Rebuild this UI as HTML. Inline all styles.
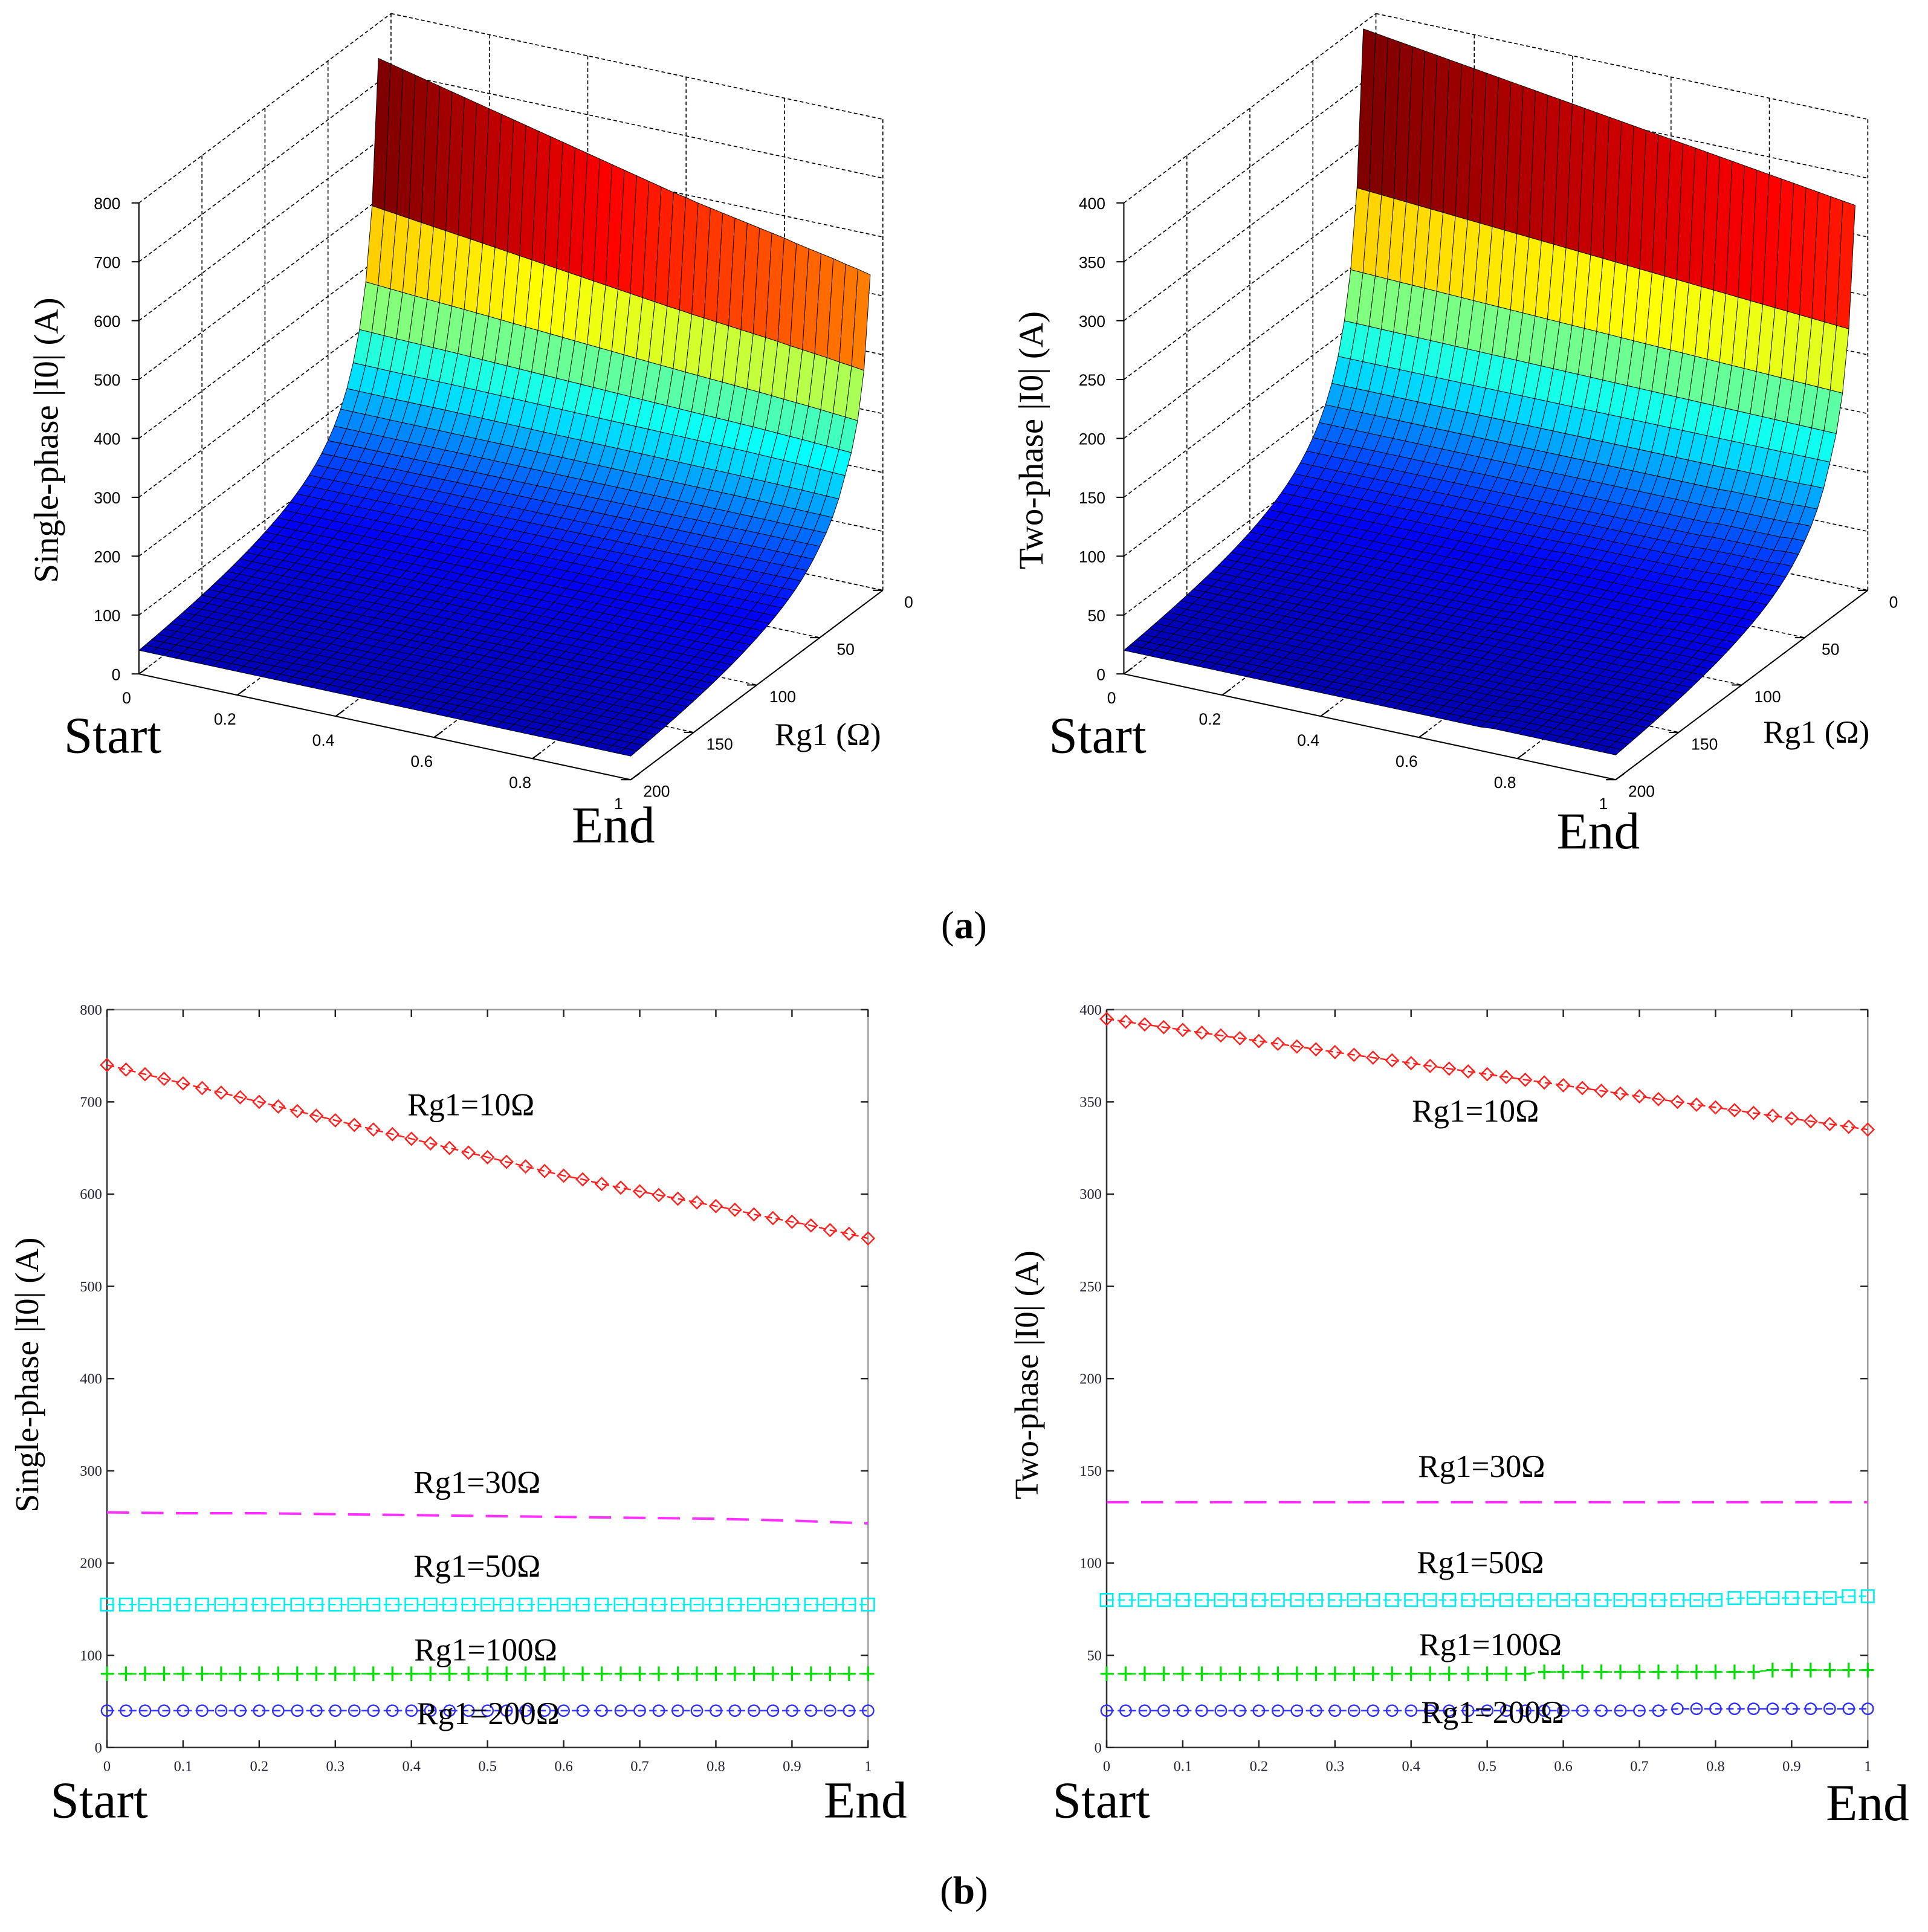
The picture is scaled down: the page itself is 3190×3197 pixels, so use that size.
<!DOCTYPE html>
<html><head><meta charset="utf-8">
<style>
html,body{margin:0;padding:0;background:#fff;}
svg{display:block;}
.serif{font-family:"Liberation Serif",serif;}
.sans{font-family:"Liberation Sans",sans-serif;}
</style></head>
<body>
<svg id="root" xmlns="http://www.w3.org/2000/svg" width="3190" height="3197" viewBox="0 0 1568 1571" preserveAspectRatio="none">
<rect x="0" y="0" width="1568" height="1571" fill="#fff"/>
<g id="g3dL"></g>
<g id="g3dR"></g>
<g id="g2dL"></g>
<g id="g2dR"></g>
<text class="serif" x="784" y="763" font-size="32" text-anchor="middle">(<tspan font-weight="bold">a</tspan>)</text>
<text class="serif" x="784" y="1548" font-size="32" text-anchor="middle">(<tspan font-weight="bold">b</tspan>)</text>
</svg>
<script>
// ---- data ----
const tTicks = [0,0.1,0.2,0.3,0.4,0.5,0.6,0.7,0.8,0.9,1];
const rgLevels = [10,30,50,100,200];
const single10 = [740,735,730,725,720,715,710,705,700,695,690,685,680,675,670,665,660,655,650,645,640,635,630,625,620,616,611,607,603,599,595,591,587,583,578,574,570,566,561,557,552];
const single30 = [255,254,254,253,252,251,250,249,248,246,243];
const single50 = [155,155,155,155,155,155,155,155,155,155,155,155,155,155,155,155,155,155,155,155,155,155,155,155,155,155,155,155,155,155,155,155,155,155,155,155,155,155,155,155,155];
const single100 = [80,80,80,80,80,80,80,80,80,80,80,80,80,80,80,80,80,80,80,80,80,80,80,80,80,80,80,80,80,80,80,80,80,80,80,80,80,80,80,80,80];
const single200 = [40,40,40,40,40,40,40,40,40,40,40,40,40,40,40,40,40,40,40,40,40,40,40,40,40,40,40,40,40,40,40,40,40,40,40,40,40,40,40,40,40];
const two10 = [395,393.5,392,390.5,389,387.5,386,384.5,383,381.5,380,378.5,377,375.5,374,372.5,371,369.5,368,366.5,365,363.5,362,360.5,359,357.5,356,354.5,353,351.5,350,348.5,347,345.5,344,342.5,341,339.5,338,336.5,335];
const two30 = [133,133,133,133,133,133,133,133,133,133,133];
const two50 = [80,80,80,80,80,80,80,80,80,80,80,80,80,80,80,80,80,80,80,80,80,80,80,80,80,80,80,80,80,80,80,80,80,81,81,81,81,81,81,82,82];
const two100 = [40,40,40,40,40,40,40,40,40,40,40,40,40,40,40,40,40,40,40,40,40,40,40,41,41,41,41,41,41,41,41,41,41,41,41,42,42,42,42,42,42];
const two200 = [20,20,20,20,20,20,20,20,20,20,20,20,20,20,20,20,20,20,20,20,20,20,20,20,20,20,20,20,20,20,21,21,21,21,21,21,21,21,21,21,21];
const singleZTicks = [0,100,200,300,400,500,600,700,800];
const twoZTicks = [0,50,100,150,200,250,300,350,400];
const rTicks = [0,50,100,150,200];
const t3Ticks = [0,0.2,0.4,0.6,0.8,1];

const NS='http://www.w3.org/2000/svg';
function mk(tag,attrs,parent){const e=document.createElementNS(NS,tag);for(const k in attrs)e.setAttribute(k,attrs[k]);parent.appendChild(e);return e;}
function sample(arr,t){
  const n=arr.length-1, f=t*n, i=Math.min(Math.floor(f),n-1), u=f-i;
  return arr[i]*(1-u)+arr[i+1]*u;
}
function jet(x){x=Math.max(0,Math.min(1,x));const c=v=>Math.round(255*Math.max(0,Math.min(1,v)));
  return 'rgb('+c(1.5-Math.abs(4*x-3))+','+c(1.5-Math.abs(4*x-2))+','+c(1.5-Math.abs(4*x-1))+')';}

function surface3d(g,ox,zmax,series,zTicks,ytitle,startPos,endPos,rgPos){
  const zs=383/zmax;
  const P=(t,r,z)=>[113+ox+400*t+(200-r)*1.025, 548+86*t-(200-r)*0.77-z*zs];
  const dash={stroke:'#000','stroke-width':0.8,'stroke-dasharray':'3,2',fill:'none'};
  const line=(a,b,st,name)=>{const l=mk('line',Object.assign({x1:a[0],y1:a[1],x2:b[0],y2:b[1]},st),g);
    };
  zTicks.forEach(z=>{line(P(0,200,z),P(0,0,z),dash,'grid-line');line(P(0,0,z),P(1,0,z),dash,'grid-line');});
  [0,50,100,150].forEach(r=>{line(P(0,r,0),P(0,r,zmax),dash,'grid-line');line(P(0,r,0),P(1,r,0),dash,'grid-line');});
  t3Ticks.slice(1).forEach(t=>{line(P(t,0,0),P(t,0,zmax),dash,'grid-line');line(P(t,200,0),P(t,0,0),dash,'grid-line');});
  const nT=41, rs=[]; for(let r=10;r<=200;r+=5) rs.push(r);
  function val(i,r){const t=i/(nT-1);
    const K=rgLevels.map((lv,k)=>sample(series[k],t)*lv);
    let k=0; while(k<rgLevels.length-2 && r>rgLevels[k+1]) k++;
    const u=(r-rgLevels[k])/(rgLevels[k+1]-rgLevels[k]);
    return (K[k]*(1-u)+K[k+1]*u)/r;}
  let vmax=0; for(let i=0;i<nT;i++) vmax=Math.max(vmax,val(i,10));
  for(let j=0;j<rs.length-1;j++){
    for(let i=0;i<nT-1;i++){
      const t0=i/(nT-1),t1=(i+1)/(nT-1);
      const v00=val(i,rs[j]),v10=val(i+1,rs[j]),v01=val(i,rs[j+1]),v11=val(i+1,rs[j+1]);
      const pts=[P(t0,rs[j],v00),P(t1,rs[j],v10),P(t1,rs[j+1],v11),P(t0,rs[j+1],v01)];
      const p=mk('polygon',{points:pts.map(q=>q.join(',')).join(' '),fill:jet(v00/vmax),stroke:'#000','stroke-width':0.45,'stroke-linejoin':'round'},g);
      
      
    }
  }
  const sol={stroke:'#000','stroke-width':1,fill:'none'};
  line(P(0,200,0),P(0,200,zmax),sol,'z-axis');
  line(P(0,200,0),P(1,200,0),sol,'position-axis');
  line(P(1,200,0),P(1,0,0),sol,'rg1-axis');
  line(P(1,0,0),P(1,0,zmax),dash,'grid-line');
  zTicks.forEach(z=>{const a=P(0,200,z);line(a,[a[0]-6,a[1]],sol,'z-tick');
    const tx=mk('text',{x:a[0]-15,y:a[1]+5,'font-size':13,'text-anchor':'end',class:'sans'},g);tx.textContent=z;
    });
  t3Ticks.forEach(t=>{const a=P(t,200,0);line(a,[a[0]+7,a[1]-5],sol,'position-tick');
    const tx=mk('text',{x:a[0]-10,y:a[1]+24,'font-size':13,'text-anchor':'middle',class:'sans'},g);tx.textContent=(t===0||t===1)?t:t.toFixed(1);
    });
  rTicks.forEach(r=>{const a=P(1,r,0);line(a,[a[0]-8,a[1]],sol,'rg1-tick');
    const tx=mk('text',{x:a[0]+21,y:a[1]+14,'font-size':13,'text-anchor':'middle',class:'sans'},g);tx.textContent=r;
    });
  const T=(x,y,s,txt,name,extra)=>{const e=mk('text',Object.assign({x:x,y:y,'font-size':s,class:'serif'},extra||{}),g);e.textContent=txt;
    };
  T(startPos[0],startPos[1],42,'Start','start-label');
  T(endPos[0],endPos[1],42,'End','end-label');
  T(rgPos[0],rgPos[1],26,'Rg1 (Ω)','rg1-axis-title');
  T(0,0,28,ytitle,'z-axis-title',{'text-anchor':'middle',transform:'translate('+(47+ox)+',358) rotate(-90)'});
}

function line2d(g,ox,ymax,series,yticks,ytitle,labels,startPos,endPos){
  const L=87+ox,R=706+ox,Tp=821,B=1421;
  const X=t=>L+(R-L)*t, Y=v=>B-(B-Tp)*v/ymax;
  const el=(tag,a,name)=>{const e=mk(tag,a,g);return e;};
  el('rect',{x:L,y:Tp,width:R-L,height:B-Tp,fill:'#fff',stroke:'#999','stroke-width':1.2},'plot-area');
  el('line',{x1:L,y1:Tp,x2:L,y2:B,stroke:'#333','stroke-width':1.2},'y-axis');
  el('line',{x1:L,y1:B,x2:R,y2:B,stroke:'#333','stroke-width':1.2},'x-axis');
  tTicks.forEach(t=>{el('line',{x1:X(t),y1:B,x2:X(t),y2:B-6,stroke:'#222','stroke-width':1.2},'x-tick');
    el('line',{x1:X(t),y1:Tp,x2:X(t),y2:Tp+6,stroke:'#222','stroke-width':1.2},'x-tick');
    const e=el('text',{x:X(t),y:B+19,'font-size':12,'text-anchor':'middle',class:'serif',fill:'#223'},'x-tick-label');e.textContent=(t===0||t===1)?t:t.toFixed(1);});
  yticks.forEach(v=>{el('line',{x1:L,y1:Y(v),x2:L+6,y2:Y(v),stroke:'#222','stroke-width':1.2},'y-tick');
    el('line',{x1:R,y1:Y(v),x2:R-6,y2:Y(v),stroke:'#222','stroke-width':1.2},'y-tick');
    const e=el('text',{x:L-4,y:Y(v)+4,'font-size':12,'text-anchor':'end',class:'serif',fill:'#223'},'y-tick-label');e.textContent=v;});
  const styles=[{c:'#ff2020',m:'diamond'},{c:'#ff30ff',m:'none'},{c:'#00f0f0',m:'square'},{c:'#00e000',m:'plus'},{c:'#3030ff',m:'circle'}];
  series.forEach((arr,k)=>{const st=styles[k];
    const pts=arr.map((v,i)=>[X(i/(arr.length-1)),Y(v)]);
    el('polyline',{points:pts.map(p=>p.join(',')).join(' '),fill:'none',stroke:st.c,'stroke-width':st.m==='none'?2:1.2,'stroke-dasharray':st.m==='none'?'18,10':'6,3'},'series-line-'+rgLevels[k]);
    if(st.m==='none') return;
    pts.forEach(p=>{const[x,y]=p;
      if(st.m==='diamond') el('polygon',{points:`${x},${y-5} ${x+5},${y} ${x},${y+5} ${x-5},${y}`,fill:'none',stroke:st.c,'stroke-width':1.2},'marker');
      else if(st.m==='square') el('rect',{x:x-5,y:y-5,width:10,height:10,fill:'none',stroke:st.c,'stroke-width':1.3},'marker');
      else if(st.m==='plus') el('path',{d:`M${x-5},${y}H${x+5}M${x},${y-6}V${y+6}`,stroke:st.c,'stroke-width':1.6},'marker');
      else el('circle',{cx:x,cy:y,r:4.5,fill:'none',stroke:st.c,'stroke-width':1.2},'marker');});
  });
  labels.forEach(lb=>{const e=el('text',{x:lb[0]+ox,y:lb[1],'font-size':26,'text-anchor':'middle',class:'serif'},'series-label');e.textContent=lb[2];});
  const t1=el('text',{x:0,y:0,'font-size':27,'text-anchor':'middle',class:'serif',transform:'translate('+(31+ox)+',1118) rotate(-90)'},'y-axis-title');t1.textContent=ytitle;
  const s=el('text',{x:startPos[0],y:startPos[1],'font-size':42,class:'serif'},'start-label');s.textContent='Start';
  const en=el('text',{x:endPos[0],y:endPos[1],'font-size':42,class:'serif'},'end-label');en.textContent='End';
}

surface3d(document.getElementById('g3dL'),0,800,[single10,single30,single50,single100,single200],singleZTicks,'Single-phase |I0| (A)',[52,612],[465,685],[630,606]);
surface3d(document.getElementById('g3dR'),801,400,[two10,two30,two50,two100,two200],twoZTicks,'Two-phase |I0| (A)',[853,612],[1266,690],[1434,604]);
line2d(document.getElementById('g2dL'),0,800,[single10,single30,single50,single100,single200],singleZTicks,'Single-phase |I0| (A)',
  [[383,907,'Rg1=10Ω'],[388,1214,'Rg1=30Ω'],[388,1282,'Rg1=50Ω'],[395,1350,'Rg1=100Ω'],[397,1402,'Rg1=200Ω']],[41,1478],[670,1478]);
line2d(document.getElementById('g2dR'),813,400,[two10,two30,two50,two100,two200],twoZTicks,'Two-phase |I0| (A)',
  [[387,912,'Rg1=10Ω'],[392,1201,'Rg1=30Ω'],[391,1279,'Rg1=50Ω'],[399,1346,'Rg1=100Ω'],[401,1401,'Rg1=200Ω']],[856,1478],[1485,1480]);
</script>
</body></html>
